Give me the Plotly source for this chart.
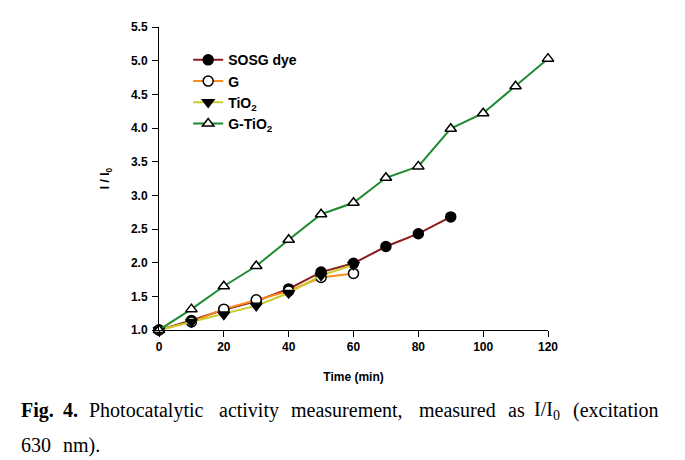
import plotly.graph_objects as go

time = [0, 10, 20, 30, 40, 50, 60, 70, 80, 90, 100, 110, 120]
sosg = [1.00, 1.14, 1.30, 1.43, 1.61, 1.86, 1.99, 2.24, 2.43, 2.68]
g = [1.00, 1.12, 1.31, 1.45, 1.58, 1.78, 1.84]
tio2 = [1.00, 1.12, 1.23, 1.36, 1.55, 1.81, 1.97]
gtio2 = [1.00, 1.31, 1.65, 1.95, 2.34, 2.72, 2.89, 3.26, 3.43, 3.99, 4.22, 4.62, 5.03]

names = ["SOSG dye", "G", "TiO<sub>2</sub>", "G-TiO<sub>2</sub>"]
series = [sosg, g, tio2, gtio2]
colors = ["#8B1A1A", "#FF8A1E", "#C8CC2E", "#1E8A2E"]
symbols = ["circle", "circle", "triangle-down", "triangle-up"]
mcolors = ["black", "white", "black", "white"]

caption_line1 = ["<b>Fig.</b>", "<b>4.</b>", "Photocatalytic", "activity", "measurement,",
                 "measured", "as", "I/I<sub>0</sub>", "(excitation"]
caption_line1_x = [20, 62, 88, 218, 290, 418, 507, 533, 572]
caption_line2 = ["630", "nm)."]
caption_line2_x = [20, 62]

# plot area in screen pixels (page has 8px body margin)
PL, PR, PT, PB = 159, 548, 27, 330

fig = go.Figure()
for name, ys, c, s, mc in zip(names, series, colors, symbols, mcolors):
    fig.add_trace(go.Scatter(
        x=time[:len(ys)], y=ys, name=name, mode="lines+markers",
        line=dict(color=c, width=2),
        marker=dict(symbol=s, size=10, color=mc, line=dict(color="black", width=1.5)),
        cliponaxis=False,
    ))

fig.update_layout(
    width=685, height=460,
    margin=dict(l=PL - 8, r=685 - (PR - 8), t=PT - 8, b=460 - (PB - 8)),
    paper_bgcolor="white", plot_bgcolor="white",
    font=dict(family="Liberation Sans", color="black"),
    showlegend=True,
    legend=dict(x=0.075, y=0.943, xanchor="left", yanchor="top",
                font=dict(family="Liberation Sans", size=14, color="black", weight="bold"),
                bgcolor="rgba(0,0,0,0)", tracegroupgap=0, itemwidth=30),
    xaxis=dict(range=[0, 120], tickvals=list(range(0, 121, 20)), ticks="outside",
               ticklen=6, tickcolor="black", showline=True, linecolor="black", linewidth=1,
               showgrid=False, zeroline=False,
               tickfont=dict(family="Liberation Sans", size=12, color="black", weight="bold"),
               title=dict(text="<b>Time (min)</b>", font=dict(family="Liberation Sans", size=12, color="black"),
                          standoff=19)),
    yaxis=dict(range=[1.0, 5.5], tickvals=[1.0, 1.5, 2.0, 2.5, 3.0, 3.5, 4.0, 4.5, 5.0, 5.5],
               tickformat=".1f", ticks="outside", ticklen=6, tickcolor="black",
               showline=True, linecolor="black", linewidth=1, showgrid=False, zeroline=False,
               ticklabelstandoff=2,
               tickfont=dict(family="Liberation Sans", size=12, color="black", weight="bold"),
               title=dict(text="<b>I / I<sub>0</sub></b>", font=dict(family="Liberation Sans", size=12, color="black"),
                          standoff=18)),
)

W = PR - PL
H = PB - PT
for words, xs, py in [(caption_line1, caption_line1_x, 410), (caption_line2, caption_line2_x, 445)]:
    for w, px in zip(words, xs):
        fig.add_annotation(xref="paper", yref="paper", x=(px - PL) / W, y=(PB - py) / H,
                           xanchor="left", yanchor="middle", showarrow=False, borderpad=0,
                           text=w, font=dict(family="Liberation Serif", size=20, color="black"))

fig.write_html("out.html")
